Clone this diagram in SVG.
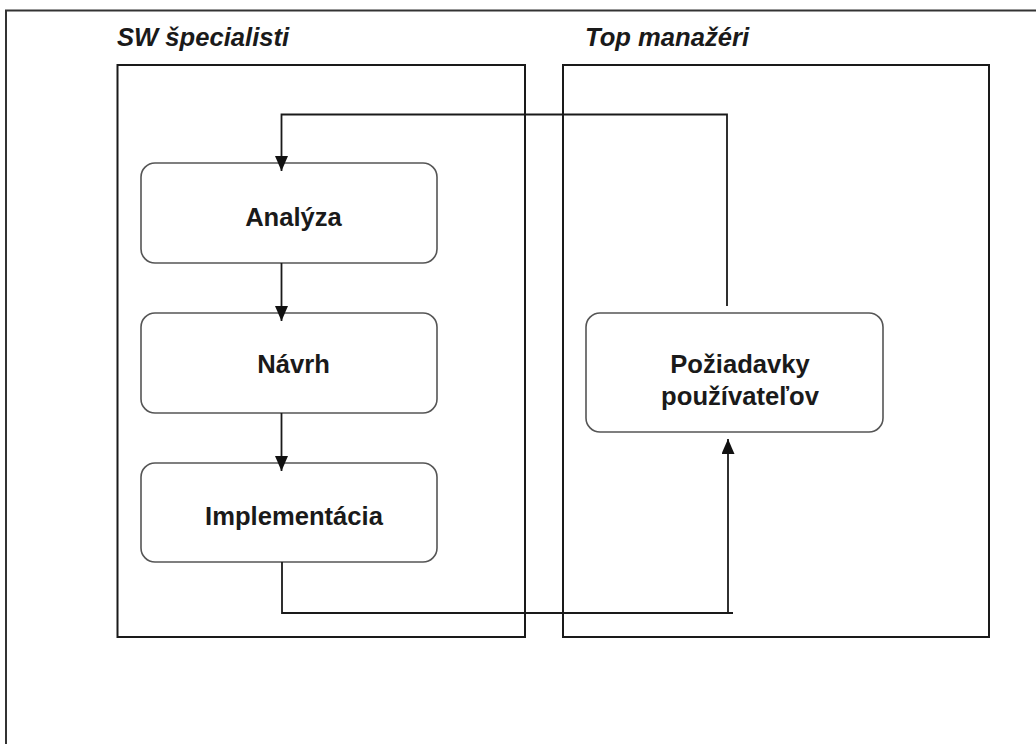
<svg xmlns="http://www.w3.org/2000/svg" width="1036" height="744" viewBox="0 0 1036 744">
<style>
.frame{fill:none;stroke:#333;stroke-width:2}
.lane{fill:none;stroke:#1a1a1a;stroke-width:2}
.box{fill:#fff;stroke:#555;stroke-width:1.6}
.lbl{font-family:"Liberation Sans",Arial,sans-serif;font-weight:bold;font-size:25.6px;fill:#1a1a1a;text-anchor:middle}
.title{font-family:"Liberation Sans",Arial,sans-serif;font-weight:bold;font-style:italic;font-size:25.6px;fill:#1a1a1a}
.conn{fill:none;stroke:#1a1a1a;stroke-width:1.8}
</style>
<defs>
<marker id="arr" markerUnits="userSpaceOnUse" markerWidth="16" markerHeight="14" refX="15" refY="6.5" orient="auto">
<path d="M0,0 L15,6.5 L0,13 z" fill="#111"/>
</marker>
</defs>
<rect width="1036" height="744" fill="#fff"/>
<rect class="frame" x="6" y="10.5" width="1100" height="800"/>
<g id="lane-sw">
<rect class="lane" x="117.5" y="65" width="407.5" height="572"/>
<text class="title" x="117" y="46">SW špecialisti</text>
</g>
<g id="lane-top">
<rect class="lane" x="563" y="65" width="426" height="572"/>
<text class="title" x="585" y="46">Top manažéri</text>
</g>
<g id="node-analyza">
<rect class="box" x="141" y="163" width="296" height="100" rx="14"/>
<text class="lbl" x="293.5" y="226">Analýza</text>
</g>
<g id="node-navrh">
<rect class="box" x="141" y="313" width="296" height="100" rx="14"/>
<text class="lbl" x="293.5" y="373">Návrh</text>
</g>
<g id="node-implementacia">
<rect class="box" x="141" y="463" width="296" height="99" rx="14"/>
<text class="lbl" x="294" y="525">Implementácia</text>
</g>
<g id="node-poziadavky">
<rect class="box" x="586" y="313" width="297" height="119" rx="14"/>
<text class="lbl" x="740" y="373">Požiadavky</text>
<text class="lbl" x="740" y="405">používateľov</text>
</g>
<g id="connectors">
<path class="conn" d="M727,306 V114.5 H281.5 V171" marker-end="url(#arr)"/>
<path class="conn" d="M281.5,263 V321" marker-end="url(#arr)"/>
<path class="conn" d="M281.5,413 V471" marker-end="url(#arr)"/>
<path class="conn" d="M282,562 V613 H733"/>
<path class="conn" d="M728,613 V439" marker-end="url(#arr)"/>
</g>
</svg>
